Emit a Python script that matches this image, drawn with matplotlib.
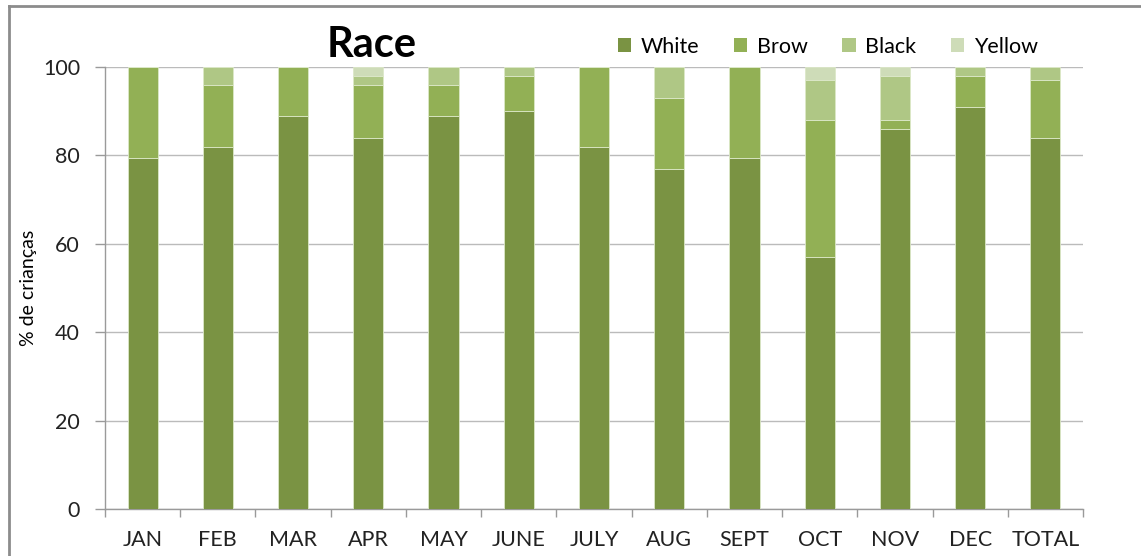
import matplotlib
matplotlib.use("Agg")
import matplotlib.pyplot as plt
import numpy as np
from matplotlib.lines import Line2D
from matplotlib.patches import Patch

categories = ["JAN", "FEB", "MAR", "APR", "MAY", "JUNE", "JULY", "AUG", "SEPT", "OCT", "NOV", "DEC", "TOTAL"]
white = [79.5, 82, 89, 84, 89, 90, 82, 77, 79.5, 57, 86, 91, 84]
brow = [20.5, 14, 11, 12, 7, 8, 18, 16, 20.5, 31, 2, 7, 13]
black = [0, 4, 0, 2, 4, 2, 0, 7, 0, 9, 10, 2, 3]
yellow = [0, 0, 0, 2, 0, 0, 0, 0, 0, 3, 2, 0, 0]
series_names = ["White", "Brow", "Black", "Yellow"]
colors = ["#7A9343", "#92B055", "#AFC785", "#CEDCB8"]
yticks = [0, 20, 40, 60, 80, 100]

plt.rcParams['font.family'] = ['Lato', 'DejaVu Sans']

fig = plt.figure(figsize=(11.41, 5.56), dpi=100)
W, H = 1141, 556
ax = fig.add_axes([105 / W, 1 - 509 / H, (1083 - 105) / W, (509 - 67) / H])

x = np.arange(len(categories))
bottom = np.zeros(len(categories))
for name, vals, c in zip(series_names, [white, brow, black, yellow], colors):
    v = np.array(vals, dtype=float)
    ax.bar(x, v, width=0.4, bottom=bottom, color=c, edgecolor="#DCE8C8",
           linewidth=0.6, label=name, zorder=3)
    bottom += v

ax.set_xlim(-0.5, len(categories) - 0.5)
ax.set_ylim(0, 100)
ax.set_yticks(yticks)
ax.set_yticklabels([str(t) for t in yticks], fontsize=15.5, color="#222222")
ax.set_xticks(x)
ax.set_xticklabels(categories, fontsize=15.5, color="#222222")
ax.set_xticks(np.arange(-0.5, len(categories), 1), minor=True)
ax.tick_params(axis="x", which="major", length=0, pad=15)
ax.tick_params(axis="x", which="minor", length=6, color="#9A9A9A", width=1)
ax.tick_params(axis="y", which="major", length=7, color="#9A9A9A", width=1, pad=11)

ax.grid(axis="y", color="#BBBBBB", linewidth=1, zorder=0)
for s in ["left", "bottom"]:
    ax.spines[s].set_color("#9A9A9A")
    ax.spines[s].set_linewidth(1)
ax.spines["right"].set_visible(False)
ax.spines["top"].set_visible(False)

ax.set_ylabel("% de crianças", fontsize=14)
ax.yaxis.set_label_coords(-68 / (1083 - 105), 0.5)

fig.text(372 / W, 1 - 45 / H, "Race", fontsize=30, fontweight="bold",
         ha="center", va="center")

handles = [Patch(facecolor=c, edgecolor="none") for c in colors]
fig.legend(handles, series_names, loc="center left",
           bbox_to_anchor=(618 / W, 1 - 47 / H), ncol=4, frameon=False,
           fontsize=15.5, handlelength=0.62, handleheight=0.62,
           handletextpad=0.45, columnspacing=1.6, borderaxespad=0, borderpad=0)

# outer chart border (top and left visible)
fig.add_artist(Line2D([9 / W, 1.0], [1 - 6 / H, 1 - 6 / H], color="#8C8C8C",
                      linewidth=2, transform=fig.transFigure))
fig.add_artist(Line2D([9 / W, 9 / W], [0, 1 - 6 / H], color="#8C8C8C",
                      linewidth=2, transform=fig.transFigure))

fig.savefig("out.png", dpi=100)
